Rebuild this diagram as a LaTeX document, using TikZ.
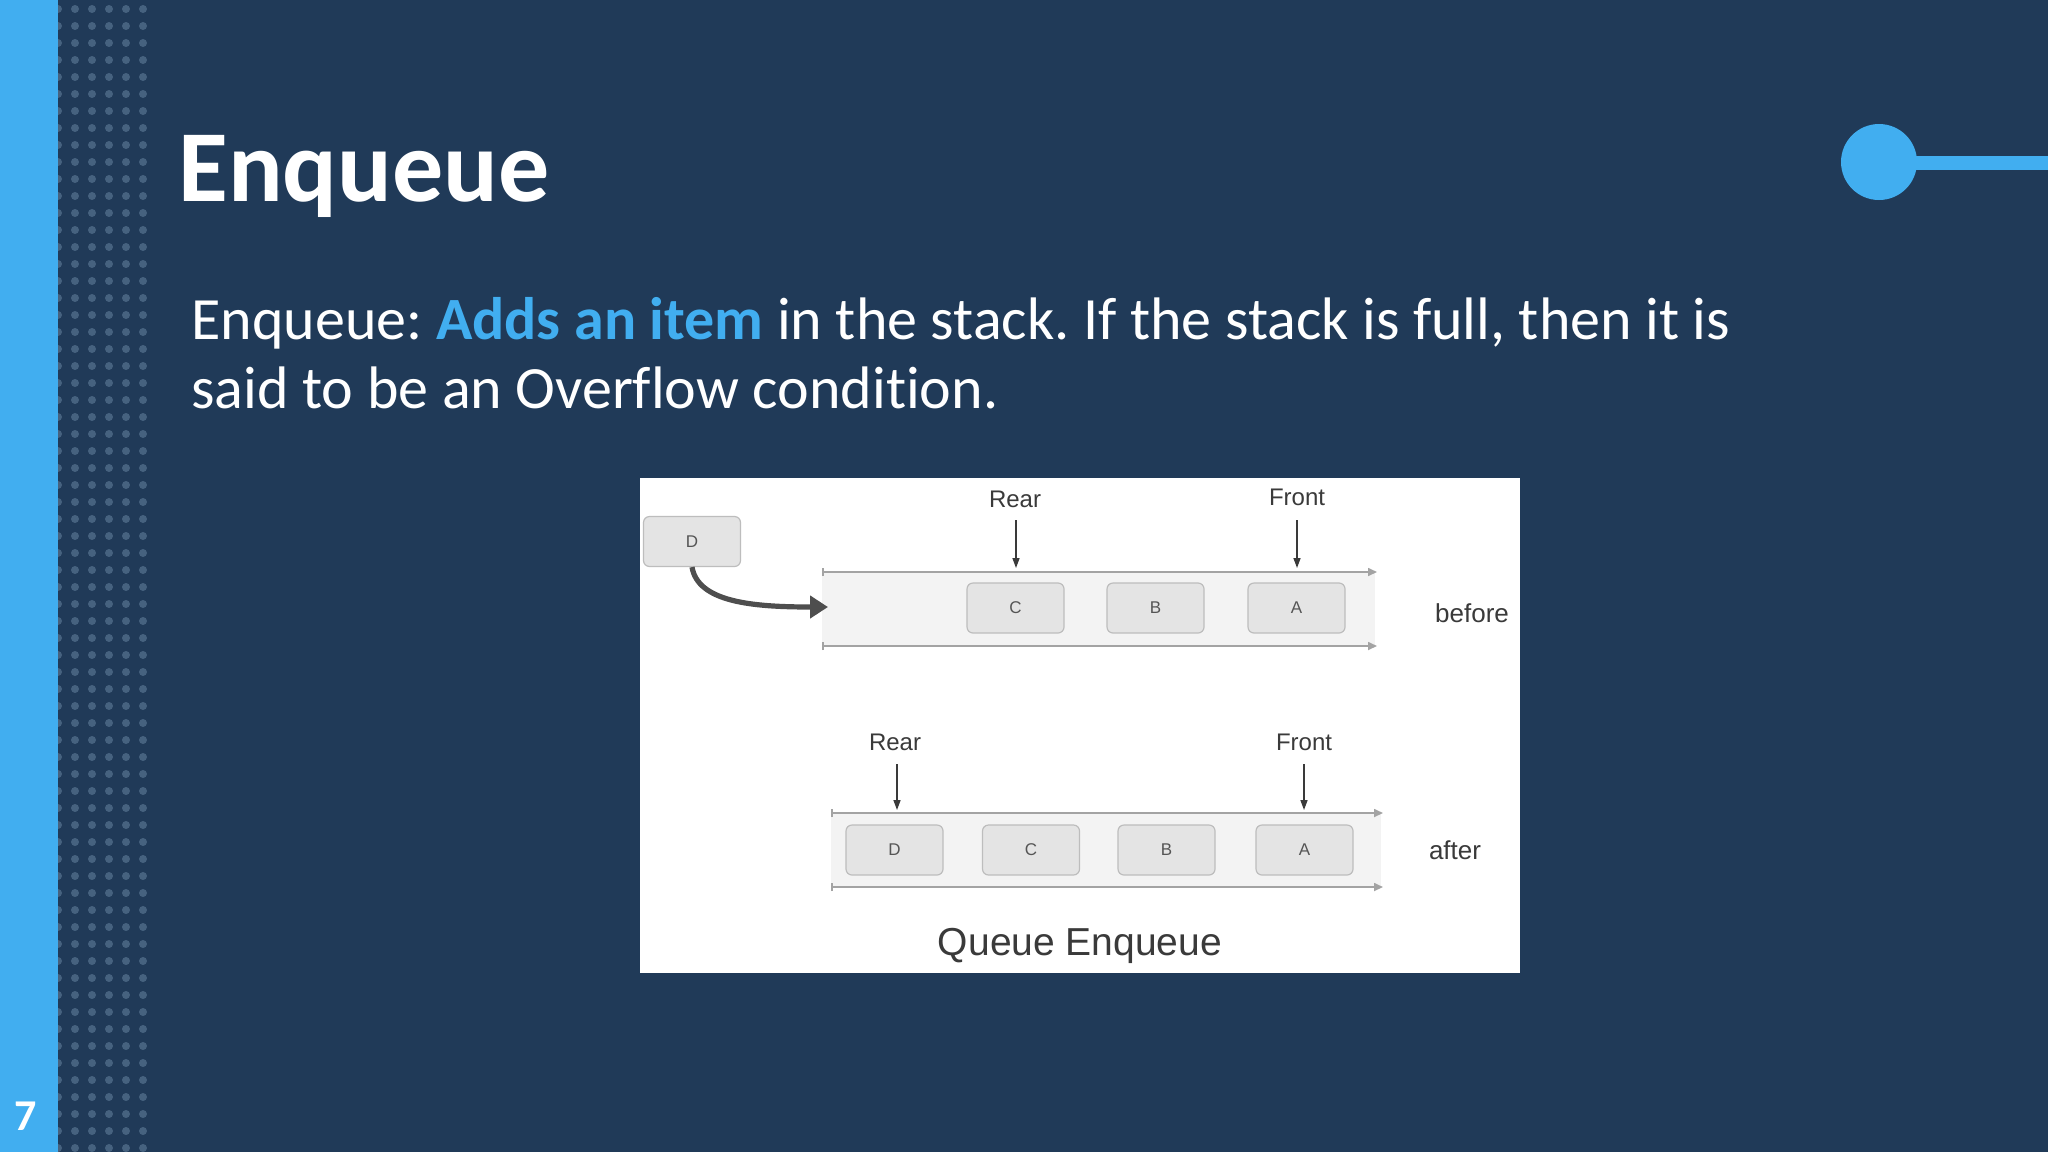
\documentclass[tikz,border=0pt]{standalone}
\usepackage{fontspec}
\setmainfont{Carlito}[Ligatures={NoCommon,NoContextual}]
\newfontfamily\diagfont{Liberation Sans}
\usetikzlibrary{arrows.meta}
\definecolor{bg}{HTML}{203A58}
\definecolor{accent}{HTML}{41AEF0}
\definecolor{dotc}{HTML}{46627F}
\definecolor{boxfill}{HTML}{E4E4E4}
\definecolor{boxline}{HTML}{BDBDBD}
\definecolor{bandfill}{HTML}{F3F3F3}
\definecolor{bandline}{HTML}{A3A3A3}
\definecolor{darkg}{HTML}{3A3A3A}
\definecolor{lettc}{HTML}{555555}
\tikzset{
  qbox/.style={draw=boxline, line width=0.6pt, fill=boxfill, rounded corners=3pt,
    minimum width=48.5pt, minimum height=25pt, inner sep=0pt,
    font=\diagfont\fontsize{8.5pt}{9pt}\selectfont, text=lettc},
  ptrlabel/.style={inner sep=0pt, font=\diagfont\fontsize{12pt}{13pt}\selectfont, text=darkg},
  sidelabel/.style={inner sep=0pt, font=\diagfont\fontsize{13pt}{14pt}\selectfont, text=darkg},
  ptr/.style={draw=darkg, line width=0.7pt, -{Triangle[length=5pt,width=3.5pt]}},
  bandedge/.style={draw=bandline, line width=0.8pt, {Bar[width=4pt]}-{Triangle[length=4.5pt,width=4pt]}},
  curvearrow/.style={draw=darkg!90, line width=2.6pt, -{Triangle[length=9pt,width=11pt]}},
  bodytext/.style={anchor=base west, inner sep=0pt, text=white, font=\fontsize{30pt}{36pt}\selectfont}
}
\frenchspacing
\begin{document}
\begin{tikzpicture}[x=0.5pt,y=-0.5pt]
\fill[bg] (0,0) rectangle (2048,1152);
\useasboundingbox (0,0) rectangle (2048,1152);
% dotted column
\foreach \c in {58,75,92,109,126,143}
  \foreach \r in {0,...,67}
    \fill[dotc] (\c,9+17*\r) circle[radius=4];
% left strip
\fill[accent] (0,0) rectangle (58,1152);
% top-right ornament
\fill[accent] (1879,156) rectangle (2048,170);
\fill[accent] (1879,162) circle[radius=38];
% page number
\node[anchor=base, inner sep=0pt, text=white, font=\fontsize{22pt}{24pt}\selectfont\bfseries] (pagenum) at (26,1130) {7};
% title
\node[anchor=base west, inner sep=0pt, text=white, font=\fontsize{51pt}{58pt}\selectfont\bfseries] (title) at (178,201) {Enqueue};
% body
\node[bodytext] (line1) at (191,339) {\frenchspacing Enqueue: \textcolor{accent}{\bfseries Adds an item} in the stack. If the stack is full, then it is};
\node[bodytext] (line2) at (191,408) {said to be an Overflow condition.};
% diagram panel
\fill[white] (640,478) rectangle (1520,973);
% bands
\fill[bandfill] (822,572) rectangle (1375,646);
\fill[bandfill] (831,813) rectangle (1381,887);
\coordinate (b1tl) at (822,572); \coordinate (b1tr) at (1377,572);
\coordinate (b1bl) at (822,646); \coordinate (b1br) at (1377,646);
\coordinate (b2tl) at (831,813); \coordinate (b2tr) at (1383,813);
\coordinate (b2bl) at (831,887); \coordinate (b2br) at (1383,887);
\draw[bandedge] (b1tl) -- (b1tr);
\draw[bandedge] (b1bl) -- (b1br);
\draw[bandedge] (b2tl) -- (b2tr);
\draw[bandedge] (b2bl) -- (b2br);
% boxes
\node[qbox] (dnew) at (692,541.5) {D};
\node[qbox] (c1) at (1015.5,608) {C};
\node[qbox] (b1) at (1155.5,608) {B};
\node[qbox] (a1) at (1296.5,608) {A};
\node[qbox] (d2) at (894.5,850) {D};
\node[qbox] (c2) at (1031,850) {C};
\node[qbox] (b2) at (1166.5,850) {B};
\node[qbox] (a2) at (1304.5,850) {A};
% curved arrow
\coordinate (enter) at (828,607);
\draw[curvearrow] (dnew.south) .. controls (698,602) and (752,607) .. (enter);
% pointer labels
\node[ptrlabel] (rear1) at (1015,499) {Rear};
\node[ptrlabel] (front1) at (1297,497) {Front};
\node[ptrlabel] (rear2) at (895,742) {Rear};
\node[ptrlabel] (front2) at (1304,742) {Front};
\coordinate (r1s) at (1016,520); \coordinate (r1e) at (1016,568);
\coordinate (f1s) at (1297,520); \coordinate (f1e) at (1297,568);
\coordinate (r2s) at (897,764); \coordinate (r2e) at (897,810);
\coordinate (f2s) at (1304,764); \coordinate (f2e) at (1304,810);
\draw[ptr] (r1s) -- (r1e);
\draw[ptr] (f1s) -- (f1e);
\draw[ptr] (r2s) -- (r2e);
\draw[ptr] (f2s) -- (f2e);
% side labels
\node[sidelabel] (before) at (1472,613) {before};
\node[sidelabel] (after) at (1455,850) {after};
% caption
\node[inner sep=0pt, font=\diagfont\fontsize{19.5pt}{21pt}\selectfont, text=darkg] (caption) at (1080,946) {Queue Enqueue};
\end{tikzpicture}
\end{document}
